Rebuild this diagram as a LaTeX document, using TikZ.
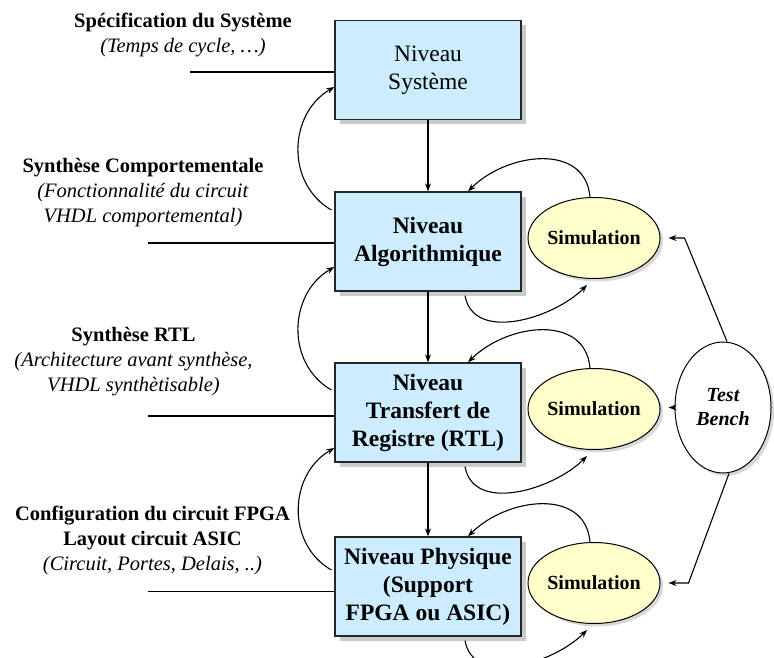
\documentclass[tikz,border=0pt]{standalone}
\usepackage{fontspec}
\setmainfont{Liberation Serif}
\usetikzlibrary{arrows.meta, shapes.geometric, shadows}
\definecolor{niveaubleu}{RGB}{204,236,255}
\definecolor{simjaune}{RGB}{255,255,204}

\begin{document}
\begin{tikzpicture}[x=1pt, y=1pt, >={Stealth[length=8pt, width=6pt]},
    niveau/.style={draw=black!85, line width=1.3pt, fill=niveaubleu,
        minimum width=186pt, minimum height=99pt, inner sep=0pt, align=center,
        font=\fontsize{23.5}{28}\selectfont\bfseries,
        drop shadow={shadow xshift=5pt, shadow yshift=-5pt, fill=gray!70, opacity=0.6}},
    simu/.style={ellipse, draw, line width=1pt, fill=simjaune,
        minimum width=110pt, minimum height=81pt, inner sep=0pt,
        font=\fontsize{20}{24}\selectfont\bfseries,
        drop shadow={shadow xshift=3pt, shadow yshift=-3pt, fill=gray!60, opacity=0.5}},
    etiq/.style={align=center, font=\fontsize{20.5}{25}\selectfont},
    fleche/.style={->, line width=1.1pt}]
            % Same Bounding Box
            \useasboundingbox (0,0) rectangle (774,657);

            % Niveaux
            \node[niveau, font=\fontsize{23.5}{28}\selectfont] (sys) at (428,587) {Niveau\\Système};
            \node[niveau] (algo) at (428,415.5) {Niveau\\Algorithmique};
            \node[niveau] (rtl) at (428,244.5) {Niveau\\Transfert de\\Registre (RTL)};
            \node[niveau] (phys) at (428,70.5) {Niveau Physique\\(Support\\FPGA ou ASIC)};

            % Simulations and test bench
            \node[simu] (sim1) at (594,419) {Simulation};
            \node[simu] (sim2) at (594,248) {Simulation};
            \node[simu] (sim3) at (594,74) {Simulation};
            \node[ellipse, draw, line width=1pt, fill=white, minimum width=96pt,
                minimum height=131pt, inner sep=0pt, align=center,
                font=\fontsize{20}{24}\selectfont\bfseries\itshape,
                drop shadow={shadow xshift=3pt, shadow yshift=-3pt, fill=gray!60, opacity=0.5}]
                (tb) at (723,249.5) {Test\\Bench};

            % Labels on the left
            \node[etiq] (specif) at (183,622.5) {\textbf{Spécification du Système}\\\textit{(Temps de cycle, …)}};
            \node[etiq] (comport) at (143,464.5) {\textbf{Synthèse Comportementale}\\\textit{(Fonctionnalité du circuit}\\\textit{VHDL comportemental)}};
            \node[etiq] (synrtl) at (133.5,295) {\textbf{Synthèse RTL}\\\textit{(Architecture avant synthèse,}\\\textit{VHDL synthètisable)}};
            \node[etiq] (config) at (152.5,117) {\textbf{Configuration du circuit FPGA}\\\textbf{Layout circuit ASIC}\\\textit{(Circuit, Portes, Delais, ..)}};

            % Input lines
            \coordinate (e1) at (190,585);
            \coordinate (e2) at (148,414);
            \coordinate (e3) at (148,241);
            \coordinate (e4) at (148,65.5);
            \draw[line width=1.1pt] (e1) -- (e1 -| sys.west);
            \draw[line width=1.1pt] (e2) -- (e2 -| algo.west);
            \draw[line width=1.1pt] (e3) -- (e3 -| rtl.west);
            \draw[line width=1.1pt] (e4) -- (e4 -| phys.west);

            % Downward flow
            \draw[fleche] (sys) -- (algo);
            \draw[fleche] (algo) -- (rtl);
            \draw[fleche] (rtl) -- (phys);

            % Feedback on the left
            \draw[fleche] ([xshift=-3,yshift=31.5]algo.west) to[out=150, in=210, looseness=1.1] ([yshift=-17]sys.west);
            \draw[fleche] ([xshift=-3,yshift=22.5]rtl.west) to[out=150, in=210, looseness=1.1] ([yshift=-25.5]algo.west);
            \draw[fleche] ([xshift=-3,yshift=16.5]phys.west) to[out=150, in=210, looseness=1.1] ([yshift=-35.5]rtl.west);

            % Simulation loops
            \draw[fleche] ([xshift=37,yshift=-4]algo.south) to[out=-80, in=225] ([xshift=-7,yshift=-6]sim1.south);
            \draw[fleche] ([xshift=-4]sim1.north) to[out=95, in=45, looseness=1.15] ([xshift=40]algo.north);
            \draw[fleche] ([xshift=37,yshift=-4]rtl.south) to[out=-80, in=225] ([xshift=-7,yshift=-6]sim2.south);
            \draw[fleche] ([xshift=-4]sim2.north) to[out=95, in=45, looseness=1.15] ([xshift=40]rtl.north);
            \draw[fleche] ([xshift=37,yshift=-4]phys.south) to[out=-80, in=225] ([xshift=-7,yshift=-6]sim3.south);
            \draw[fleche] ([xshift=-4]sim3.north) to[out=95, in=45, looseness=1.15] ([xshift=40]phys.north);

            % Test bench to simulations
            \draw[fleche, shorten >=8pt] ([xshift=4]tb.north) -- ([xshift=24]sim1.east) -- (sim1.east);
            \draw[fleche, shorten >=8pt] (tb.west) -- (tb.west -| sim2.east);
            \draw[fleche, shorten >=8pt] ([xshift=6]tb.south) -- ([xshift=28]sim3.east) -- (sim3.east);
        \end{tikzpicture}
\end{document}
